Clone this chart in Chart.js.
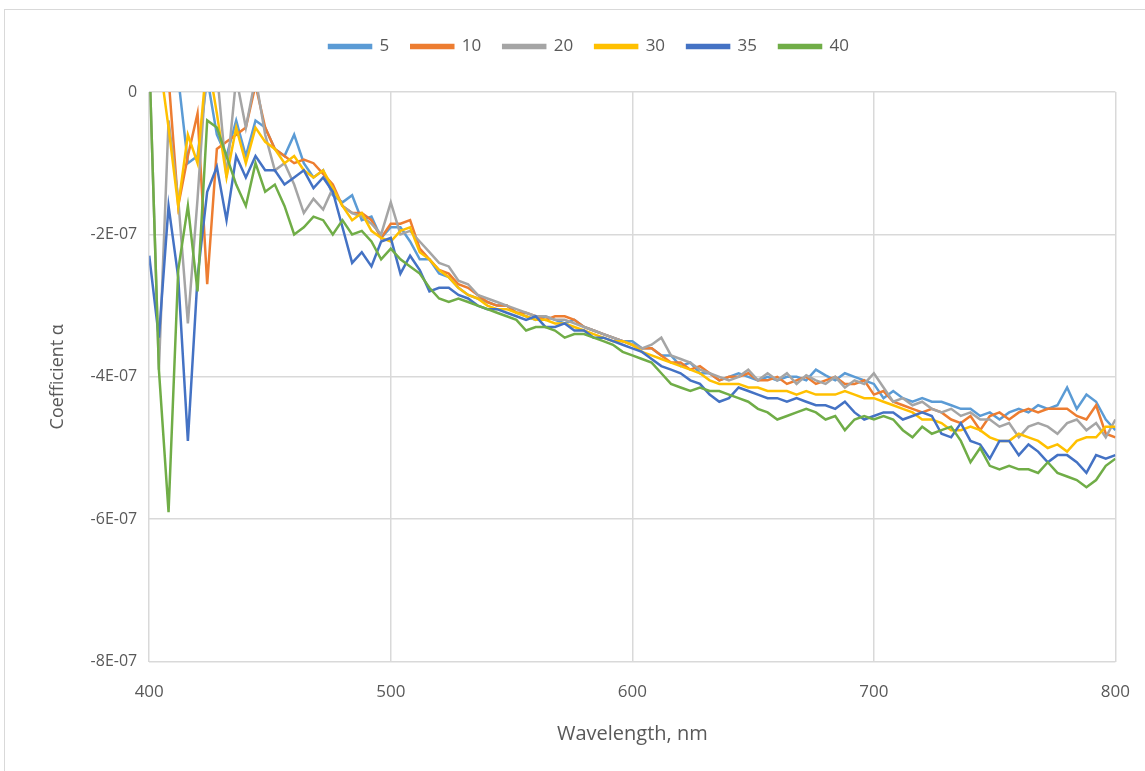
<!DOCTYPE html>
<html lang="en">
<head>
    <meta charset="UTF-8">
    <title>Coefficient alpha vs wavelength</title>
    <script src="https://cdn.jsdelivr.net/npm/chart.js"></script>
    <style>
        body { margin: 0; background: #fff; overflow: hidden; }
        .frame {
            position: absolute; left: 4px; top: 9px;
            width: 1200px; height: 800px;
            border: 1px solid #d9d9d9;
        }
        .wrap { position: absolute; left: 0; top: 0; width: 1150px; height: 771px; }
    </style>
</head>
<body>
    <div class="frame"></div>
    <div class="wrap"><canvas id="alphaChart" width="1150" height="771"></canvas></div>

    <script>
        // wavelength, nm
        const wavelengths = [
            400, 404, 408, 412, 416, 420, 424, 428, 432, 436,
            440, 444, 448, 452, 456, 460, 464, 468, 472, 476,
            480, 484, 488, 492, 496, 500, 504, 508, 512, 516,
            520, 524, 528, 532, 536, 540, 544, 548, 552, 556,
            560, 564, 568, 572, 576, 580, 584, 588, 592, 596,
            600, 604, 608, 612, 616, 620, 624, 628, 632, 636,
            640, 644, 648, 652, 656, 660, 664, 668, 672, 676,
            680, 684, 688, 692, 696, 700, 704, 708, 712, 716,
            720, 724, 728, 732, 736, 740, 744, 748, 752, 756,
            760, 764, 768, 772, 776, 780, 784, 788, 792, 796,
            800
        ];

        // coefficient alpha, in units of 1E-07
        const alpha5 = [
            0.5, 0.5, 0.3, 0.2, -1.0, -0.9, 0.2, -0.6, -0.9, -0.4,
            -0.9, -0.4, -0.5, -0.8, -0.9, -0.6, -1.0, -1.2, -1.1, -1.45,
            -1.55, -1.45, -1.8, -1.75, -2.05, -1.9, -1.9, -2.1, -2.35, -2.35,
            -2.55, -2.6, -2.75, -2.85, -2.9, -2.95, -3.0, -3.0, -3.1, -3.15,
            -3.2, -3.15, -3.2, -3.25, -3.2, -3.3, -3.35, -3.4, -3.45, -3.5,
            -3.5, -3.6, -3.6, -3.7, -3.7, -3.85, -3.8, -3.95, -3.95, -4.05,
            -4.0, -3.95, -4.0, -4.05, -4.0, -4.05, -4.0, -4.0, -4.05, -3.9,
            -3.98, -4.05, -3.95, -4.0, -4.05, -4.1, -4.3, -4.2, -4.3, -4.35,
            -4.3, -4.35, -4.35, -4.4, -4.45, -4.45, -4.55, -4.5, -4.6, -4.5,
            -4.45, -4.5, -4.4, -4.45, -4.4, -4.15, -4.45, -4.25, -4.35, -4.6,
            -4.75
        ];
        const alpha10 = [
            0.5, 0.3, 0.2, -1.6, -0.9, -0.3, -2.7, -0.8, -0.7, -0.6,
            -0.5, 0.1, -0.5, -0.8, -0.9, -1.0, -0.95, -1.0, -1.15, -1.3,
            -1.6, -1.7, -1.7, -1.8, -2.05, -1.85, -1.85, -1.8, -2.2, -2.35,
            -2.5, -2.55, -2.7, -2.75, -2.85, -2.95, -3.0, -3.0, -3.1, -3.1,
            -3.15, -3.2, -3.15, -3.15, -3.2, -3.3, -3.35, -3.4, -3.45, -3.5,
            -3.55, -3.6, -3.6, -3.7, -3.8, -3.8, -3.9, -3.85, -3.95, -4.05,
            -4.0, -4.0, -3.95, -4.05, -4.05, -4.0, -4.1, -4.05, -4.0, -4.1,
            -4.05, -4.0, -4.1, -4.1, -4.05, -4.25, -4.2, -4.35, -4.4, -4.45,
            -4.5, -4.45, -4.5, -4.6, -4.65, -4.55, -4.75, -4.55, -4.5, -4.6,
            -4.5, -4.45, -4.5, -4.45, -4.45, -4.45, -4.55, -4.6, -4.4, -4.8,
            -4.85
        ];
        const alpha20 = [
            0.5, -3.9, -0.4, -1.5, -3.25, -1.5, 0.5, 0.3, -1.2, 0.2,
            -0.5, 0.2, -0.6, -1.1, -1.0, -1.3, -1.7, -1.5, -1.65, -1.35,
            -1.6, -1.7, -1.75, -1.85, -2.0, -1.55, -2.0, -1.95, -2.1, -2.25,
            -2.4, -2.45, -2.65, -2.7, -2.85, -2.9, -2.95, -3.0, -3.05, -3.1,
            -3.15, -3.15, -3.2, -3.2, -3.25, -3.3, -3.35, -3.4, -3.45, -3.5,
            -3.55, -3.6, -3.55, -3.45, -3.7, -3.75, -3.8, -3.9, -3.95, -4.0,
            -4.05, -4.0, -3.9, -4.05, -3.95, -4.05, -3.95, -4.1, -3.98, -4.05,
            -4.1, -4.0, -4.15, -4.05, -4.1, -3.95, -4.15, -4.35, -4.3, -4.4,
            -4.35, -4.45, -4.5, -4.45, -4.55, -4.5, -4.6, -4.6, -4.7, -4.65,
            -4.85, -4.7, -4.65, -4.7, -4.8, -4.65, -4.6, -4.75, -4.65, -4.85,
            -4.6
        ];
        const alpha30 = [
            0.5, 0.5, -0.5, -1.6, -0.6, -1.0, 0.5, -0.3, -1.2, -0.5,
            -1.0, -0.5, -0.7, -0.8, -1.0, -0.9, -1.1, -1.2, -1.1, -1.35,
            -1.6, -1.8, -1.7, -1.95, -2.05, -2.1, -1.95, -1.9, -2.25, -2.35,
            -2.5, -2.6, -2.75, -2.85, -2.9, -3.0, -3.05, -3.05, -3.1, -3.15,
            -3.2, -3.2, -3.25, -3.25, -3.3, -3.35, -3.4, -3.45, -3.5, -3.5,
            -3.55, -3.65, -3.7, -3.75, -3.8, -3.85, -3.9, -3.95, -4.05, -4.1,
            -4.1, -4.1, -4.15, -4.15, -4.2, -4.2, -4.2, -4.25, -4.2, -4.25,
            -4.25, -4.25, -4.2, -4.25, -4.3, -4.3, -4.35, -4.4, -4.45, -4.5,
            -4.6, -4.6, -4.65, -4.75, -4.75, -4.7, -4.75, -4.85, -4.9, -4.9,
            -4.8, -4.85, -4.9, -5.0, -4.95, -5.05, -4.9, -4.85, -4.85, -4.7,
            -4.7
        ];
        const alpha35 = [
            -2.3, -3.45, -1.6, -2.6, -4.9, -2.6, -1.4, -1.05, -1.8, -0.9,
            -1.2, -0.9, -1.1, -1.1, -1.3, -1.2, -1.1, -1.35, -1.2, -1.4,
            -1.9, -2.4, -2.25, -2.45, -2.1, -2.05, -2.55, -2.3, -2.5, -2.8,
            -2.75, -2.75, -2.85, -2.9, -3.0, -3.05, -3.05, -3.1, -3.15, -3.2,
            -3.15, -3.3, -3.3, -3.25, -3.35, -3.35, -3.45, -3.45, -3.5, -3.55,
            -3.6, -3.65, -3.75, -3.85, -3.9, -3.95, -4.05, -4.1, -4.25, -4.35,
            -4.3, -4.15, -4.2, -4.25, -4.3, -4.3, -4.35, -4.3, -4.35, -4.4,
            -4.4, -4.45, -4.35, -4.5, -4.6, -4.55, -4.5, -4.5, -4.6, -4.55,
            -4.5, -4.55, -4.8, -4.85, -4.65, -4.9, -4.95, -5.15, -4.9, -4.9,
            -5.1, -4.95, -5.05, -5.2, -5.1, -5.1, -5.2, -5.35, -5.1, -5.15,
            -5.1
        ];
        const alpha40 = [
            0.5, -3.9, -5.9, -2.5, -1.6, -2.8, -0.4, -0.5, -0.9, -1.3,
            -1.6, -1.0, -1.4, -1.3, -1.6, -2.0, -1.9, -1.75, -1.8, -2.0,
            -1.8, -2.0, -1.95, -2.1, -2.35, -2.2, -2.35, -2.45, -2.55, -2.75,
            -2.9, -2.95, -2.9, -2.95, -3.0, -3.05, -3.1, -3.15, -3.2, -3.35,
            -3.3, -3.3, -3.35, -3.45, -3.4, -3.4, -3.45, -3.5, -3.55, -3.65,
            -3.7, -3.75, -3.8, -3.95, -4.1, -4.15, -4.2, -4.15, -4.2, -4.2,
            -4.25, -4.3, -4.35, -4.45, -4.5, -4.6, -4.55, -4.5, -4.45, -4.5,
            -4.6, -4.55, -4.75, -4.6, -4.55, -4.6, -4.55, -4.6, -4.75, -4.85,
            -4.7, -4.8, -4.75, -4.7, -4.9, -5.2, -5.0, -5.25, -5.3, -5.25,
            -5.3, -5.3, -5.35, -5.2, -5.35, -5.4, -5.45, -5.55, -5.45, -5.25,
            -5.15
        ];

        const seriesNames = ["5", "10", "20", "30", "35", "40"];
        const seriesValues = [alpha5, alpha10, alpha20, alpha30, alpha35, alpha40];
        const seriesColors = ["#5B9BD5", "#ED7D31", "#A5A5A5", "#FFC000", "#4472C4", "#70AD47"];

        const textColor = "#595959";
        const fontFamily = "'Open Sans', sans-serif";

        function toPoints(values) {
            return values.map((v, i) => ({ x: wavelengths[i], y: v }));
        }

        // later series drawn on top, like the original
        const datasets = seriesNames.map((name, i) => ({
            label: name,
            data: toPoints(seriesValues[i]),
            borderColor: seriesColors[i],
            backgroundColor: seriesColors[i],
            borderWidth: 2.5,
            pointRadius: 0,
            tension: 0,
            fill: false,
            order: seriesNames.length - i
        }));

        // extra gap between legend and plot
        const legendGap = {
            id: "legendGap",
            beforeInit(chart) {
                const fit = chart.legend.fit;
                chart.legend.fit = function () {
                    fit.call(this);
                    this.height += 27;
                };
            }
        };

        new Chart(document.getElementById("alphaChart"), {
            type: "line",
            data: { datasets: datasets },
            plugins: [legendGap],
            options: {
                responsive: false,
                animation: false,
                layout: { padding: { left: 43, right: 15, top: 16, bottom: 21 } },
                plugins: {
                    tooltip: { enabled: false },
                    legend: {
                        position: "top",
                        labels: {
                            color: textColor,
                            font: { family: fontFamily, size: 17 },
                            boxWidth: 42,
                            boxHeight: 3,
                            padding: 22,
                            sort: (a, b) => a.datasetIndex - b.datasetIndex
                        }
                    }
                },
                scales: {
                    x: {
                        type: "linear",
                        min: 400,
                        max: 800,
                        ticks: {
                            stepSize: 100,
                            color: textColor,
                            font: { family: fontFamily, size: 17 },
                            padding: 20
                        },
                        grid: { color: "#d9d9d9", lineWidth: 1.5, drawTicks: false },
                        border: { display: false },
                        title: {
                            display: true,
                            text: "Wavelength, nm",
                            color: textColor,
                            font: { family: fontFamily, size: 20 },
                            padding: { top: 0 }
                        }
                    },
                    y: {
                        min: -8,
                        max: 0,
                        ticks: {
                            stepSize: 2,
                            color: textColor,
                            font: { family: fontFamily, size: 16 },
                            padding: 12,
                            callback: v => v === 0 ? "0" : v + "E-07"
                        },
                        grid: { color: "#d9d9d9", lineWidth: 1.5, drawTicks: false },
                        border: { display: false },
                        title: {
                            display: true,
                            text: "Coefficient α",
                            color: textColor,
                            font: { family: fontFamily, size: 18 },
                            padding: { bottom: 10 }
                        }
                    }
                }
            }
        });
    </script>
</body>
</html>
